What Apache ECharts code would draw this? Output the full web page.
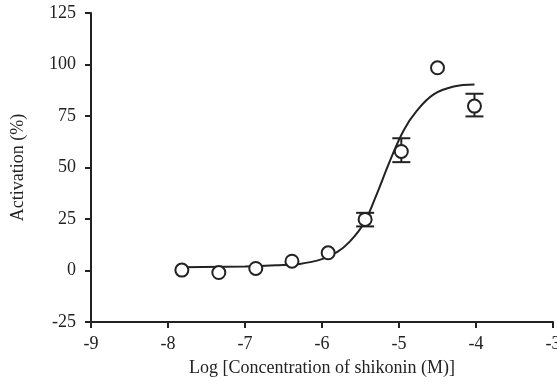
<!DOCTYPE html>
<html>
<head>
<meta charset="utf-8">
<script src="https://cdn.jsdelivr.net/npm/echarts@6/dist/echarts.min.js"></script>
<style>
  html, body { margin: 0; padding: 0; background: #fff; }
  #main { width: 557px; height: 388px; }
</style>
</head>
<body>
<div id="main"></div>
<script>
// measured points: log concentration, activation (%)
var logConc = [-7.82, -7.34, -6.86, -6.39, -5.92, -5.44, -4.97, -4.50, -4.02];
var activation = [0.2, -1.0, 1.0, 4.5, 8.6, 24.8, 57.8, 98.4, 79.8];

// error bars: [x, low, high]
var errX = [-5.44, -4.97, -4.02];
var errLow = [21.4, 52.6, 74.8];
var errHigh = [28.0, 64.2, 85.8];

// fitted curve
var curveX = [-7.82, -7.0, -6.6, -6.29, -6.0, -5.8, -5.64, -5.46, -5.29, -5.12, -4.94, -4.77, -4.55, -4.29, -4.02];
var curveY = [1.6, 2.0, 2.5, 3.2, 5.5, 9.0, 14.0, 22.7, 37.0, 53.0, 68.0, 77.5, 85.5, 89.3, 90.3];

var font = "'Liberation Serif', 'DejaVu Serif', serif";

var pts = logConc.map(function (x, i) { return [x, activation[i]]; });
var curve = curveX.map(function (x, i) { return [x, curveY[i]]; });
var errs = errX.map(function (x, i) { return [x, errLow[i], errHigh[i]]; });

var chart = echarts.init(document.getElementById("main"));
chart.setOption({
  animation: false,
  grid: { left: 91, right: 4, top: 13, bottom: 66, outerBoundsMode: "none", containLabel: false },
  xAxis: {
    type: "value",
    min: -9, max: -3, interval: 1,
    name: "Log [Concentration of shikonin (M)]",
    nameLocation: "middle",
    nameGap: 37,
    nameTextStyle: { fontFamily: font, fontSize: 18, color: "#222" },
    axisLine: { onZero: false, lineStyle: { color: "#222", width: 2 } },
    axisTick: { length: 6, lineStyle: { color: "#222", width: 2 } },
    axisLabel: { fontFamily: font, fontSize: 18, color: "#222", margin: 13 },
    splitLine: { show: false }
  },
  yAxis: {
    type: "value",
    min: -25, max: 125, interval: 25,
    name: "Activation (%)",
    nameLocation: "middle",
    nameGap: 64,
    nameTextStyle: { fontFamily: font, fontSize: 18, color: "#222" },
    axisLine: { onZero: false, lineStyle: { color: "#222", width: 2 } },
    axisTick: { length: 6, lineStyle: { color: "#222", width: 2 } },
    axisLabel: { fontFamily: font, fontSize: 18, color: "#222", margin: 15 },
    splitLine: { show: false }
  },
  series: [
    {
      type: "line",
      data: curve,
      smooth: 0.4,
      showSymbol: false,
      lineStyle: { color: "#222", width: 2 },
      z: 1
    },
    {
      type: "custom",
      data: errs,
      z: 2,
      renderItem: function (params, api) {
        var x = api.value(0);
        var lo = api.coord([x, api.value(1)]);
        var hi = api.coord([x, api.value(2)]);
        var w = 9;
        var style = { stroke: "#222", lineWidth: 2 };
        return {
          type: "group",
          children: [
            { type: "line", shape: { x1: lo[0], y1: lo[1], x2: hi[0], y2: hi[1] }, style: style },
            { type: "line", shape: { x1: hi[0] - w, y1: hi[1], x2: hi[0] + w, y2: hi[1] }, style: style },
            { type: "line", shape: { x1: lo[0] - w, y1: lo[1], x2: lo[0] + w, y2: lo[1] }, style: style }
          ]
        };
      }
    },
    {
      type: "scatter",
      data: pts,
      symbol: "circle",
      symbolSize: 13,
      itemStyle: { color: "#fff", borderColor: "#222", borderWidth: 2, opacity: 1 },
      z: 3
    }
  ]
});
</script>
</body>
</html>
